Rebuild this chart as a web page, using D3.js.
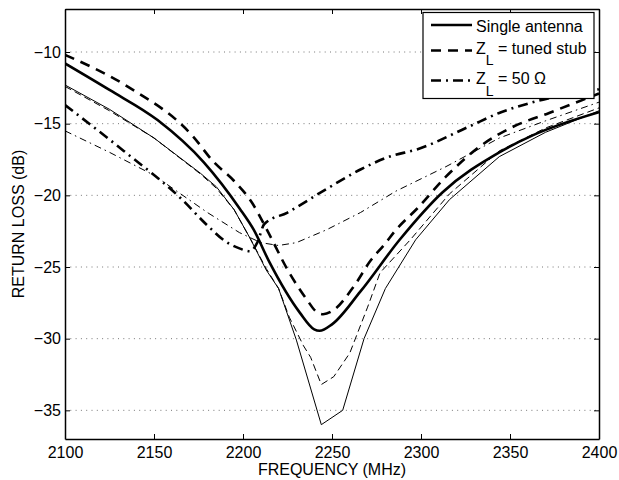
<!DOCTYPE html>
<html>
<head>
<meta charset="utf-8">
<script src="https://cdn.jsdelivr.net/npm/d3@7"></script>
<style>
  body { margin: 0; background: #fff; }
  svg { font-family: "Liberation Sans", Arial, Helvetica, sans-serif; }
</style>
</head>
<body>
<div id="chart"></div>
<script>
// tick values
var xTicks = [2100, 2150, 2200, 2250, 2300, 2350, 2400];
var yTicks = [-10, -15, -20, -25, -30, -35];

// single antenna: measured (thick) / simulated (thin)
var freqMeasSingle = [2100, 2125, 2152, 2178, 2198, 2206, 2215, 2232, 2240, 2243, 2250, 2266, 2288, 2312, 2344, 2363, 2400];
var measSingle = [-10.8, -12.65, -14.75, -17.7, -20.9, -22.4, -24.7, -28.2, -29.35, -29.45, -29.0, -26.7, -23.1, -19.8, -17.0, -15.8, -14.2];
var freqSimSingle = [2100, 2125, 2150, 2176, 2185, 2195, 2204, 2213, 2220, 2230, 2244, 2256, 2268, 2280, 2297, 2316, 2344, 2370, 2400];
var simSingle = [-12.3, -14.0, -16.0, -18.45, -19.4, -21.0, -23.0, -25.2, -26.5, -30.1, -36.0, -35.0, -30.0, -26.5, -23.1, -20.3, -17.3, -15.6, -14.1];

// Z_L = tuned stub
var freqMeasStub = [2100, 2135, 2172, 2183, 2195, 2205, 2213, 2226, 2236, 2241, 2245, 2251, 2262, 2272, 2279, 2286, 2298, 2314, 2333, 2352, 2372, 2400];
var measStub = [-10.2, -12.4, -15.9, -17.6, -19.0, -20.5, -22.3, -25.4, -27.3, -28.1, -28.3, -28.0, -26.4, -24.5, -23.5, -22.4, -20.9, -18.7, -16.6, -15.2, -14.25, -12.9];
var freqSimStub = [2100, 2125, 2150, 2176, 2185, 2195, 2204, 2213, 2220, 2226, 2234, 2238, 2244, 2251, 2260, 2270, 2277, 2294, 2316, 2344, 2370, 2400];
var simStub = [-12.4, -14.1, -16.0, -18.5, -19.5, -21.0, -23.0, -25.1, -26.5, -28.5, -30.5, -31.3, -33.2, -32.65, -31.0, -27.8, -25.4, -23.1, -19.9, -16.9, -15.3, -13.9];

// Z_L = 50 ohm
var freqMeasZ50 = [2100, 2133, 2165, 2180, 2190, 2198, 2204, 2208, 2212, 2225, 2243, 2266, 2280, 2300, 2327, 2345, 2360, 2400];
var measZ50 = [-13.7, -16.9, -20.2, -22.1, -23.2, -23.7, -23.9, -23.3, -22.0, -21.2, -19.85, -18.2, -17.4, -16.7, -15.2, -14.2, -13.6, -12.6];
var freqSimZ50 = [2100, 2125, 2150, 2165, 2180, 2198, 2210, 2220, 2230, 2247, 2266, 2286, 2314, 2344, 2370, 2400];
var simZ50 = [-15.5, -17.0, -18.6, -19.9, -21.2, -22.6, -23.3, -23.5, -23.3, -22.4, -21.2, -19.7, -18.0, -16.0, -14.8, -13.5];

function drawChart() {
    var width = 619,
        height = 480,
        x0 = 65, x1 = 599, y0 = 9, y1 = 439;

    var svg = d3.select("#chart")
        .append("svg")
        .attr("width", width)
        .attr("height", height);

    var x = d3.scaleLinear().domain([2100, 2400]).range([x0, x1]);
    var y = d3.scaleLinear().domain([-7, -37]).range([y0, y1]);

    // dotted horizontal grid
    svg.selectAll(".grid").data(yTicks).enter()
        .append("line")
        .attr("x1", x0).attr("x2", x1)
        .attr("y1", function(d) { return y(d); })
        .attr("y2", function(d) { return y(d); })
        .attr("stroke", "#777")
        .attr("stroke-width", 1)
        .attr("stroke-dasharray", "1,4.3");

    svg.append("clipPath").attr("id", "clip")
        .append("rect")
        .attr("x", x0).attr("y", y0)
        .attr("width", x1 - x0).attr("height", y1 - y0);

    var series = [
        { f: freqSimSingle, v: simSingle, w: 1, dash: null, smooth: false },
        { f: freqSimStub, v: simStub, w: 1, dash: "7,4", smooth: false },
        { f: freqSimZ50, v: simZ50, w: 1, dash: "7,4,1.5,4", smooth: false },
        { f: freqMeasZ50, v: measZ50, w: 2.6, dash: "10,5,2,5", smooth: true },
        { f: freqMeasStub, v: measStub, w: 2.6, dash: "10,7", smooth: true },
        { f: freqMeasSingle, v: measSingle, w: 2.6, dash: null, smooth: true }
    ];

    var plot = svg.append("g").attr("clip-path", "url(#clip)");

    series.forEach(function(s) {
        var line = d3.line()
            .x(function(d) { return x(d[0]); })
            .y(function(d) { return y(d[1]); })
            .curve(s.smooth ? d3.curveMonotoneX : d3.curveLinear);
        plot.append("path")
            .datum(d3.zip(s.f, s.v))
            .attr("fill", "none")
            .attr("stroke", "#000")
            .attr("stroke-width", s.w)
            .attr("stroke-dasharray", s.dash)
            .attr("d", line);
    });

    // axes, ticks pointing inward on all four sides
    svg.append("g")
        .attr("transform", "translate(0," + y1 + ")")
        .call(d3.axisBottom(x).tickValues(xTicks).tickFormat(d3.format("d"))
            .tickSizeInner(-5).tickSizeOuter(0).tickPadding(7.5));
    svg.append("g")
        .attr("transform", "translate(" + x0 + ",0)")
        .call(d3.axisLeft(y).tickValues(yTicks)
            .tickSizeInner(-5).tickSizeOuter(0).tickPadding(4));
    svg.append("g")
        .attr("transform", "translate(0," + y0 + ")")
        .call(d3.axisTop(x).tickValues(xTicks).tickFormat("").tickSizeInner(-5).tickSizeOuter(0));
    svg.append("g")
        .attr("transform", "translate(" + x1 + ",0)")
        .call(d3.axisRight(y).tickValues(yTicks).tickFormat("").tickSizeInner(-5).tickSizeOuter(0));

    svg.selectAll(".domain").attr("stroke", "#000").attr("stroke-width", 1.5);
    svg.selectAll(".tick line").attr("stroke", "#000").attr("stroke-width", 1);
    svg.selectAll(".tick text")
        .attr("font-size", "16px")
        .attr("font-family", "'Liberation Sans', Arial, Helvetica, sans-serif")
        .attr("fill", "#000");

    svg.append("text")
        .attr("x", (x0 + x1) / 2)
        .attr("y", 475)
        .attr("text-anchor", "middle")
        .attr("font-size", "16px")
        .text("FREQUENCY (MHz)");

    svg.append("text")
        .attr("transform", "translate(24,224) rotate(-90)")
        .attr("text-anchor", "middle")
        .attr("font-size", "16px")
        .text("RETURN LOSS (dB)");

    // legend
    var legend = svg.append("g");
    legend.append("rect")
        .attr("x", 423).attr("y", 12.5)
        .attr("width", 171).attr("height", 86)
        .attr("fill", "#fff")
        .attr("stroke", "#000")
        .attr("stroke-width", 1.2);

    var rows = [
        { ly: 25, ty: 31.5, dash: null, main: "Single antenna" },
        { ly: 50.5, ty: 53.5, dash: "10,7", main: "Z", sub: "L", rest: " = tuned stub" },
        { ly: 80.5, ty: 84, dash: "10,5,2,5", main: "Z", sub: "L", rest: " = 50 \u03A9" }
    ];

    rows.forEach(function(r) {
        legend.append("line")
            .attr("x1", 431).attr("x2", 472)
            .attr("y1", r.ly).attr("y2", r.ly)
            .attr("stroke", "#000")
            .attr("stroke-width", 2.6)
            .attr("stroke-dasharray", r.dash);
        var t = legend.append("text")
            .attr("x", 476)
            .attr("y", r.ty)
            .attr("font-size", "16px");
        t.append("tspan").text(r.main);
        if (r.sub) {
            t.append("tspan").attr("dy", 11.5).attr("font-size", "14px").text(r.sub);
            t.append("tspan").attr("dy", -11.5).text(r.rest);
        }
    });
}

drawChart();
</script>
</body>
</html>
